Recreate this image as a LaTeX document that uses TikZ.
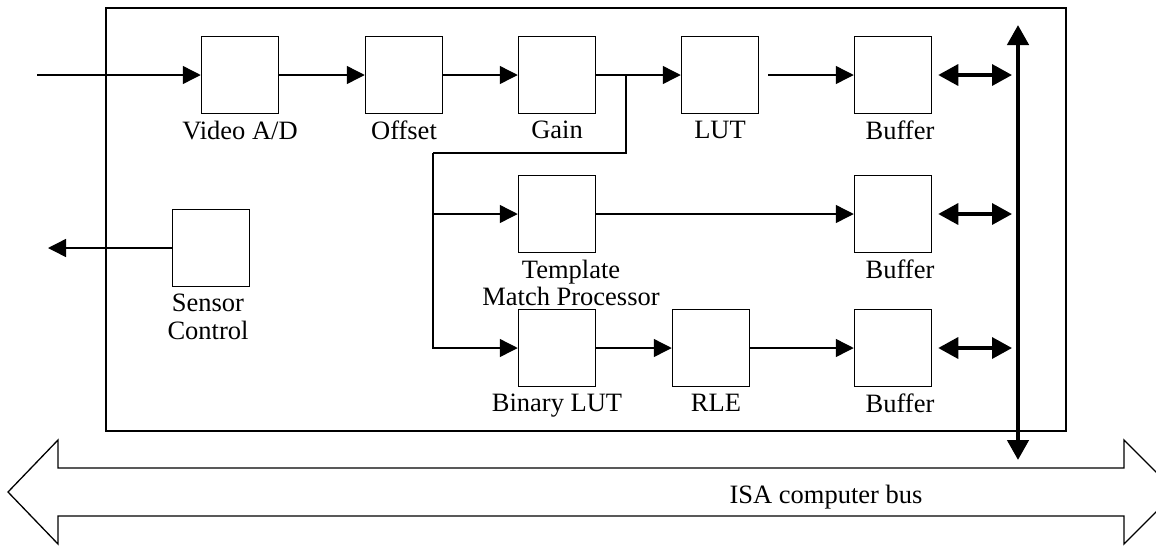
\documentclass[tikz,border=0pt]{standalone}
\usepackage{fontspec}
\setmainfont{Liberation Serif}
\usetikzlibrary{arrows.meta}
\usetikzlibrary{positioning}

\tikzset{
    blk/.style={draw, line width=1.5pt, minimum width=77pt, minimum height=77pt, inner sep=0pt},
    lbl/.style={font=\fontsize{26.5}{27.5}\selectfont, inner sep=0pt, align=center},
    busio/.style={line width=3.5pt, {Triangle[length=20pt,width=21pt]}-{Triangle[length=20pt,width=21pt]}}
}

\begin{document}
\begin{tikzpicture}[x=1pt, y=-1pt, >={Triangle[length=18pt,width=18pt]}, line width=1.4pt]
        \clip (0,0) rectangle (1156,547);
        \def\rowA{75}
        \def\rowB{214}
        \def\rowC{348}
        \def\busX{1018}

        % board outline
        \draw[line width=1.5pt] (106,8) rectangle (1066,431);

        \node[blk] (vad) at (240,\rowA) {};
        \node[blk] (off) at (404,\rowA) {};
        \node[blk] (gain) at (557,\rowA) {};
        \node[blk] (lut) at (720,\rowA) {};
        \node[blk] (bufA) at (893,\rowA) {};
        \node[blk] (tmp) at (557,\rowB) {};
        \node[blk] (bufB) at (893,\rowB) {};
        \node[blk] (blut) at (557,\rowC) {};
        \node[blk] (rle) at (711,\rowC) {};
        \node[blk] (bufC) at (893,\rowC) {};
        \node[blk] (sens) at (211,248) {};

        \node[lbl, below=6pt of vad] {Video A/D};
        \node[lbl, below=6pt of off] {Offset};
        \node[lbl, below=6pt of gain] {Gain};
        \node[lbl, below=6pt of lut] {LUT};
        \node[lbl, below=6pt of bufA, xshift=7pt] {Buffer};
        \node[lbl, below=6pt of tmp, xshift=14pt] {Template\\Match Processor};
        \node[lbl, below=6pt of bufB, xshift=7pt] {Buffer};
        \node[lbl, below=6pt of blut] {Binary LUT};
        \node[lbl, below=6pt of rle, xshift=5pt] {RLE};
        \node[lbl, below=6pt of bufC, xshift=7pt] {Buffer};
        \node[lbl, below=6pt of sens, xshift=-3pt] {Sensor\\Control};

        \coordinate (vin) at (37,\rowA);
        \coordinate (sout) at (48,248);
        \coordinate (tap) at (626,\rowA);
        \coordinate (bend) at (433,153);

        \draw[->] (vin) -- (vad);
        \draw[->] (vad) -- (off);
        \draw[->] (off) -- (gain);
        \draw[->] (gain) -- (lut);
        \draw[->, shorten <=9pt] (lut) -- (bufA);
        \draw (tap) |- (bend);
        \draw[->] (bend) |- (blut);
        \draw[->] (tmp.west -| bend) -- (tmp);
        \draw[->] (tmp) -- (bufB);
        \draw[->] (blut) -- (rle);
        \draw[->] (rle) -- (bufC);
        \draw[->] (sens) -- (sout);

        % internal bus
        \coordinate (busT) at (\busX,25);
        \coordinate (busD) at (\busX,460);
        \coordinate (busL) at (1012,0);
        \draw[{Triangle[length=20pt,width=21pt]}-{Triangle[length=20pt,width=21pt]}, line width=4.5pt] (busT) -- (busD);
        \foreach \b in {bufA,bufB,bufC}
            \draw[busio, shorten <=6pt] (\b.east) -- (\b.east -| busL);

        % ISA bus
        \draw[line width=1.3pt] (8,492) -- (58,440) -- (58,468) -- (1124,468) -- (1124,440) -- (1176,492)
            -- (1124,544) -- (1124,516) -- (58,516) -- (58,544) -- cycle;
        \node[lbl, anchor=base] (isa) at (826,503) {ISA computer bus};
    \end{tikzpicture}
\end{document}
